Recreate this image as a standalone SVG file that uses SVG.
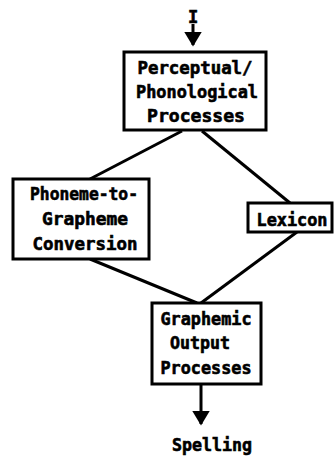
<svg xmlns="http://www.w3.org/2000/svg" width="336" height="458" viewBox="0 0 336 458">
<style>
.box{fill:#fff;stroke:#000;stroke-width:3}
.ln{stroke:#000;stroke-width:3;fill:none}
text{font-family:"DejaVu Sans Mono","Liberation Mono",monospace;font-weight:bold;font-size:17px;fill:#000;stroke:#000;stroke-width:0.6;text-anchor:middle}
</style>
<defs>
<marker id="ah" markerWidth="5" markerHeight="6" refX="4.5" refY="3" orient="auto" markerUnits="strokeWidth">
<path d="M0,0 L5,3 L0,6 Z" fill="#000"/>
</marker>
</defs>
<g id="connectors">
<line class="ln" x1="193" y1="24" x2="193" y2="45" marker-end="url(#ah)"/>
<line class="ln" x1="182" y1="131" x2="90" y2="179"/>
<line class="ln" x1="202" y1="131" x2="290" y2="203"/>
<line class="ln" x1="90" y1="259" x2="197" y2="303"/>
<line class="ln" x1="297" y1="232" x2="201" y2="303"/>
<line class="ln" x1="201" y1="384" x2="201" y2="424" marker-end="url(#ah)"/>
</g>
<g id="input"><text x="193" y="23">I</text></g>
<g id="perceptual">
<rect class="box" x="124" y="52" width="142" height="78"/>
<text x="195" y="74" textLength="115" lengthAdjust="spacingAndGlyphs">Perceptual/</text>
<text x="197" y="98" textLength="122" lengthAdjust="spacingAndGlyphs">Phonological</text>
<text x="196" y="122" textLength="98" lengthAdjust="spacingAndGlyphs">Processes</text>
</g>
<g id="ptg">
<rect class="box" x="13" y="179" width="136" height="80"/>
<text x="84" y="200" textLength="108" lengthAdjust="spacingAndGlyphs">Phoneme-to-</text>
<text x="85" y="225" textLength="86" lengthAdjust="spacingAndGlyphs">Grapheme</text>
<text x="85" y="250" textLength="105" lengthAdjust="spacingAndGlyphs">Conversion</text>
</g>
<g id="lexicon">
<rect class="box" x="248" y="203" width="84" height="29"/>
<text x="292" y="226" textLength="71" lengthAdjust="spacingAndGlyphs">Lexicon</text>
</g>
<g id="graphemic">
<rect class="box" x="152" y="303" width="109" height="81"/>
<text x="206" y="325" textLength="91" lengthAdjust="spacingAndGlyphs">Graphemic</text>
<text x="200" y="349" textLength="60" lengthAdjust="spacingAndGlyphs">Output</text>
<text x="206" y="374" textLength="91" lengthAdjust="spacingAndGlyphs">Processes</text>
</g>
<g id="spelling"><text x="212" y="451" textLength="80" lengthAdjust="spacingAndGlyphs">Spelling</text></g>
</svg>
